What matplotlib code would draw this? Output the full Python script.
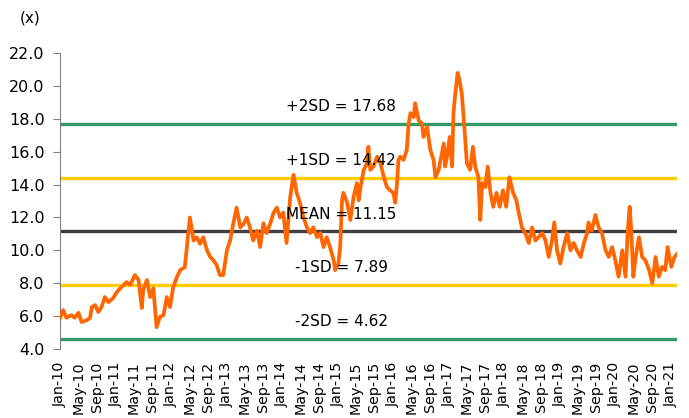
import matplotlib
matplotlib.use("Agg")
import matplotlib.pyplot as plt

# months elapsed since Jan-2010
months = [0, 0.7, 1.4, 2.5, 3.2, 4, 4.7, 5.8, 6.5, 6.9, 7.6, 8.3, 9, 9.7, 10.5, 11.5, 12.3, 13.3,
          14.4, 15.2, 16.2, 17, 17.7, 18, 18.8, 19.5, 20.2, 20.6, 20.9, 21.6, 22.4, 23.1, 23.8,
          24.5, 25.3, 26, 27, 28.1, 28.9, 29.6, 30.3, 31, 31.8, 32.5, 33.2, 33.9, 34.6, 35.3,
          36.1, 36.8, 37.5, 38.2, 39, 39.7, 40.4, 41.1, 41.8, 42.6, 43.3, 44, 44.7, 45.5, 46.2,
          46.9, 47.6, 48.3, 49, 49.8, 50.5, 51.2, 51.9, 52.7, 53.4, 54.1, 54.8, 55.6, 56.3, 57,
          57.7, 58.4, 59.2, 59.5, 60.2, 60.6, 61, 61.3, 62.1, 62.8, 63.5, 64.2, 64.6, 65, 65.7,
          66.4, 66.7, 67.1, 67.8, 68.6, 69.3, 70, 70.7, 71.4, 72.1, 72.5, 72.9, 73.2, 73.6,
          74.3, 75, 75.4, 75.8, 76.5, 76.8, 77.6, 78.3, 78.6, 79.4, 80.1, 80.8, 81.2, 81.9,
          82.6, 83, 83.3, 83.7, 84.3, 84.8, 85.1, 85.5, 86, 86.4, 86.9, 87.4, 88, 88.7, 89.3,
          89.8, 90.5, 90.9, 91.3, 92, 92.5, 93.1, 93.7, 94.4, 95.1, 95.8, 96.5, 97.2, 98, 98.7,
          99.2, 99.9, 100.6, 101.4, 102.1, 102.8, 103.5, 104.3, 105, 105.7, 106.4, 106.9,
          107.5, 108.2, 108.9, 109.7, 110.4, 111.1, 111.8, 112.6, 113.3, 114, 114.3, 115,
          115.8, 116.5, 117.2, 118, 118.7, 119.4, 120.1, 120.8, 121.6, 122.3, 122.8, 123.2,
          123.5, 124, 124.5, 125.2, 125.9, 126.6, 127.4, 128.1, 128.8, 129.5, 130.2, 130.9,
          131.4, 132.2, 132.9, 133.5]
pe = [5.88, 6.37, 5.9, 6.06, 5.9, 6.2, 5.64, 5.75, 5.9, 6.55, 6.67, 6.25, 6.55, 7.16, 6.85, 7.1,
      7.46, 7.77, 8.07, 7.9, 8.5, 8.2, 6.5, 7.6, 8.2, 7.16, 7.7, 6.37, 5.33, 5.94, 6.06, 7.16,
      6.55, 7.77, 8.38, 8.8, 8.98, 12.0, 10.6, 10.8, 10.4, 10.8, 10.0, 9.6, 9.4, 9.1, 8.5, 8.5,
      10.0, 10.6, 11.65, 12.6, 11.4, 11.6, 12.0, 11.4, 10.6, 11.2, 10.2, 11.65, 11.05, 11.65,
      12.3, 12.6, 12.0, 12.3, 10.45, 13.25, 14.6, 13.5, 12.9, 12.0, 11.4, 11.05, 11.4, 10.8,
      11.05, 10.2, 10.8, 10.2, 9.4, 8.8, 9.2, 10.2, 13.05, 13.5, 12.9, 11.85, 13.25, 14.1,
      13.05, 13.85, 14.9, 15.3, 16.3, 14.9, 15.1, 15.7, 15.3, 14.5, 13.85, 13.65, 13.5, 12.9,
      14.1, 15.5, 15.7, 15.5, 16.1, 17.7, 18.35, 18.1, 18.95, 17.9, 17.7, 16.9, 17.5, 16.1,
      15.5, 14.45, 14.9, 15.9, 16.5, 15.1, 15.7, 16.9, 15.1, 18.35, 19.55, 20.8, 20.35, 19.55,
      17.7, 15.3, 14.9, 16.3, 15.1, 14.45, 11.85, 14.1, 13.85, 15.1, 13.5, 12.65, 13.5, 12.65,
      13.65, 12.65, 14.45, 13.5, 13.05, 12.3, 11.4, 11.05, 10.45, 11.4, 10.6, 10.8, 11.05,
      10.6, 9.6, 10.6, 11.7, 10.0, 9.2, 10.2, 11.05, 10.0, 10.45, 10.0, 9.6, 10.45, 11.05,
      11.7, 11.2, 12.15, 11.4, 11.05, 10.0, 9.6, 10.2, 9.4, 8.4, 10.0, 8.4, 11.2, 12.65, 11.4,
      8.4, 9.6, 10.8, 9.6, 9.4, 8.8, 8.0, 9.6, 8.4, 9.0, 8.8, 10.2, 9.0, 9.6, 9.8]

band_names = ["+2SD", "+1SD", "MEAN", "-1SD", "-2SD"]
band_values = [17.68, 14.42, 11.15, 7.89, 4.62]
band_colors = ["#339966", "#FFCC00", "#404040", "#FFCC00", "#339966"]

tick_months = list(range(0, 133, 4))
mnames = ["Jan", "May", "Sep"]
tick_labels = [f"{mnames[(m // 4) % 3]}-{10 + m // 12:02d}" for m in tick_months]

fig = plt.figure(figsize=(6.89, 4.18), dpi=100)
ax = fig.add_axes([0.087, 0.165, 0.896, 0.708])

for name, val, col in zip(band_names, band_values, band_colors):
    ax.axhline(val, color=col, lw=2.4, zorder=2)
    ax.text(60.8, val + 1.05, f"{name} = {val:.2f}", ha="center", va="center",
            fontsize=11, color="black", zorder=4)

ax.plot(months, pe, color="#FF6600", lw=2.7, zorder=3, solid_joinstyle="round")

ax.set_xlim(0, 133.5)
ax.set_ylim(4, 22)
ax.set_yticks([4 + 2 * i for i in range(10)])
ax.set_yticklabels([f"{4 + 2 * i:.1f}" for i in range(10)], fontsize=11.5)
ax.set_xticks(tick_months)
ax.set_xticklabels(tick_labels, rotation=90, fontsize=10.3)
ax.tick_params(axis="x", length=0, pad=9)
ax.tick_params(axis="y", length=5, color="#808080", direction="out", pad=6)

for s in ["top", "right", "bottom"]:
    ax.spines[s].set_visible(False)
ax.spines["left"].set_color("#808080")

fig.text(0.029, 0.958, "(x)", fontsize=11, va="center", ha="left")

fig.savefig("out.png", dpi=100)
